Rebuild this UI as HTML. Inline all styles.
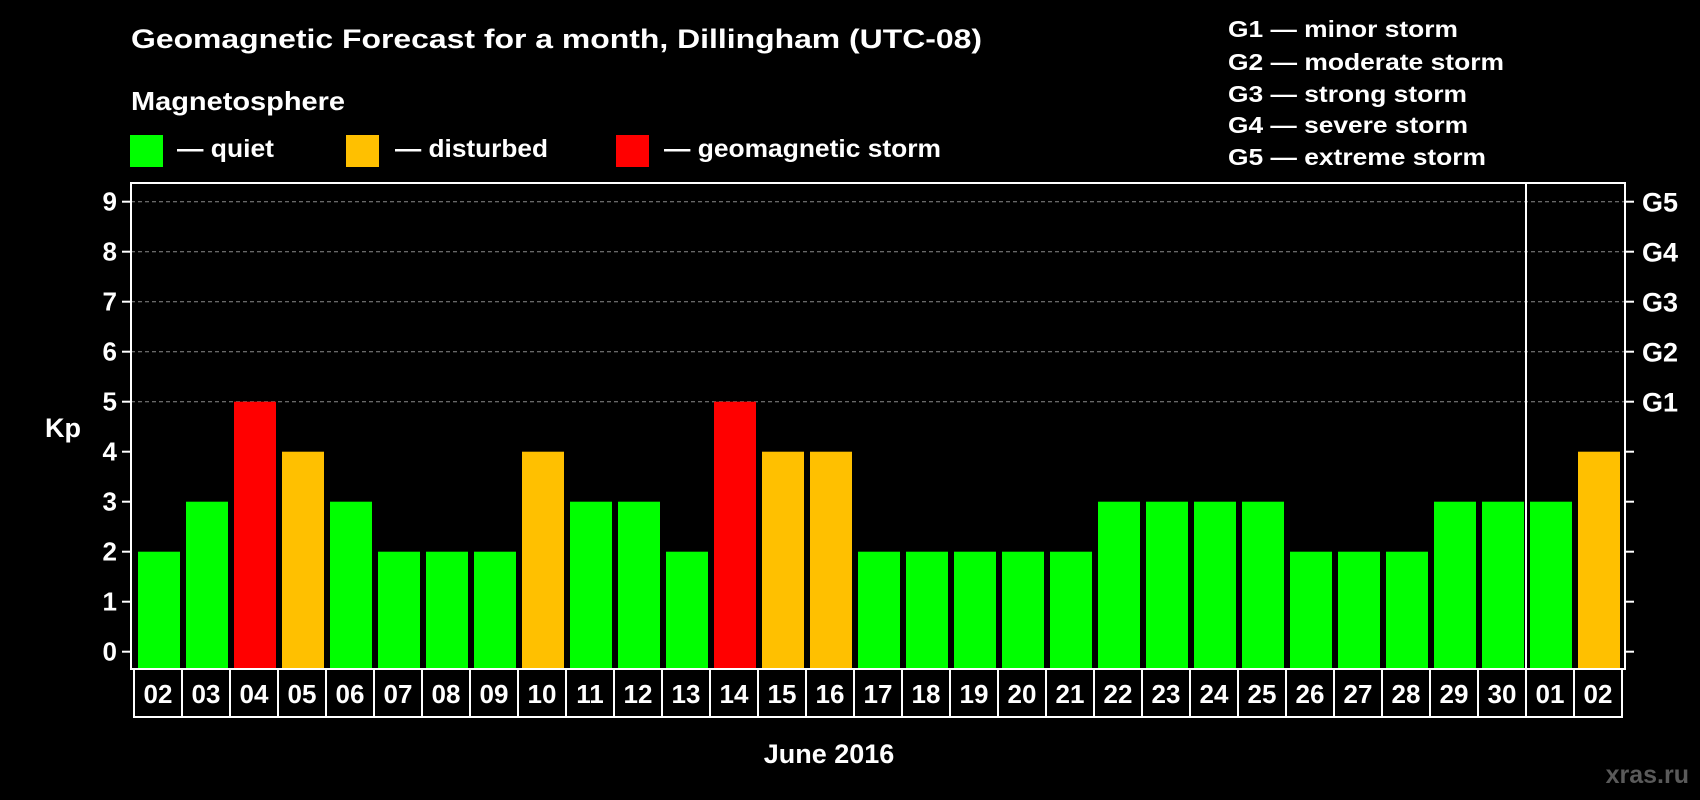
<!DOCTYPE html>
<html><head><meta charset="utf-8">
<style>
html,body{margin:0;padding:0;background:#000;}
svg{display:block;font-family:"Liberation Sans",Arial,sans-serif;font-weight:bold;}
</style></head>
<body>
<svg id="chart" width="1700" height="800" viewBox="0 0 1700 800">
<rect width="1700" height="800" fill="#000"/>
<text x="131" y="48" font-size="27" fill="#fff" textLength="851" lengthAdjust="spacingAndGlyphs">Geomagnetic Forecast for a month, Dillingham (UTC-08)</text>
<text x="131" y="110" font-size="26" fill="#fff" textLength="214" lengthAdjust="spacingAndGlyphs">Magnetosphere</text>
<g>
<rect x="130" y="135" width="33" height="32" fill="#00ff00"/>
<text x="177" y="157" font-size="25" fill="#fff" textLength="97" lengthAdjust="spacingAndGlyphs">— quiet</text>
</g>
<g>
<rect x="346" y="135" width="33" height="32" fill="#ffc000"/>
<text x="395" y="157" font-size="25" fill="#fff" textLength="153" lengthAdjust="spacingAndGlyphs">— disturbed</text>
</g>
<g>
<rect x="616" y="135" width="33" height="32" fill="#ff0000"/>
<text x="664" y="157" font-size="25" fill="#fff" textLength="277" lengthAdjust="spacingAndGlyphs">— geomagnetic storm</text>
</g>
<g font-size="23" fill="#fff">
<text x="1228" y="37" textLength="230" lengthAdjust="spacingAndGlyphs">G1 — minor storm</text>
<text x="1228" y="70" textLength="276" lengthAdjust="spacingAndGlyphs">G2 — moderate storm</text>
<text x="1228" y="102" textLength="239" lengthAdjust="spacingAndGlyphs">G3 — strong storm</text>
<text x="1228" y="133" textLength="240" lengthAdjust="spacingAndGlyphs">G4 — severe storm</text>
<text x="1228" y="165" textLength="258" lengthAdjust="spacingAndGlyphs">G5 — extreme storm</text>
</g>
<text x="63" y="437" font-size="27" fill="#fff" text-anchor="middle">Kp</text>
<text x="829" y="763" font-size="27" fill="#fff" text-anchor="middle">June 2016</text>
<text x="1689" y="783" font-size="25" fill="#5a5a5a" text-anchor="end">xras.ru</text>
<g id="plot"></g>
</svg>
<script>
const days = ["02","03","04","05","06","07","08","09","10","11","12","13","14","15","16","17","18","19","20","21","22","23","24","25","26","27","28","29","30","01","02"];
const kpValues = [2,3,5,4,3,2,2,2,4,3,3,2,5,4,4,2,2,2,2,2,3,3,3,3,2,2,2,3,3,3,4];
const yTicks = [0,1,2,3,4,5,6,7,8,9];
const gLabels = ["G1","G2","G3","G4","G5"];
const gLevels = [5,6,7,8,9];
const monthBreakIndex = 29;

const NS = "http://www.w3.org/2000/svg";
const plot = document.getElementById("plot");
const slot0 = 134, slotW = 48;
const y0 = 651.7, unit = 50;
const plotLeft = 131, plotRight = 1625, plotTop = 183, plotBottom = 669;
function yScale(v){ return y0 - v*unit; }
function xScale(i){ return slot0 + i*slotW; }
function mk(tag, attrs){ const e = document.createElementNS(NS, tag); for (const k in attrs) e.setAttribute(k, attrs[k]); plot.appendChild(e); return e; }
function colorFor(v){ return v >= 5 ? "#ff0000" : (v >= 4 ? "#ffc000" : "#00ff00"); }

gLevels.forEach((lv, i) => {
  const l = mk("line", {x1: plotLeft, x2: plotRight, y1: yScale(lv), y2: yScale(lv), stroke: "#8a8a8a", "stroke-width": 1, "stroke-dasharray": "4,3"});
  
  
  const t = mk("text", {x: 1642, y: yScale(lv) + 10, "font-size": 27, fill: "#fff"});
  t.textContent = gLabels[i];
  
  
});

yTicks.forEach(v => {
  const tl = mk("line", {x1: 122, x2: plotLeft, y1: yScale(v), y2: yScale(v), stroke: "#fff", "stroke-width": 2});
  
  
  const tr = mk("line", {x1: plotRight, x2: plotRight + 9, y1: yScale(v), y2: yScale(v), stroke: "#fff", "stroke-width": 2});
  
  
  const t = mk("text", {x: 117, y: yScale(v) + 9, "font-size": 26, fill: "#fff", "text-anchor": "end"});
  t.textContent = v;
  
  
});

kpValues.forEach((v, i) => {
  const r = mk("rect", {x: xScale(i) + 4, y: yScale(v), width: 42, height: plotBottom - 1 - yScale(v), fill: colorFor(v)});
  
  
});

const frame = mk("rect", {x: plotLeft, y: plotTop, width: plotRight - plotLeft, height: plotBottom - plotTop, fill: "none", stroke: "#fff", "stroke-width": 2});


const sep = mk("line", {x1: xScale(monthBreakIndex), x2: xScale(monthBreakIndex), y1: plotTop, y2: plotBottom, stroke: "#fff", "stroke-width": 2});



days.forEach((d, i) => {
  const b = mk("rect", {x: xScale(i), y: plotBottom, width: slotW, height: 48, fill: "#000", stroke: "#fff", "stroke-width": 2});
  
  
  const t = mk("text", {x: xScale(i) + slotW/2, y: 703, "font-size": 26, fill: "#fff", "text-anchor": "middle"});
  t.textContent = d;
  
  
});
</script>
</body></html>
